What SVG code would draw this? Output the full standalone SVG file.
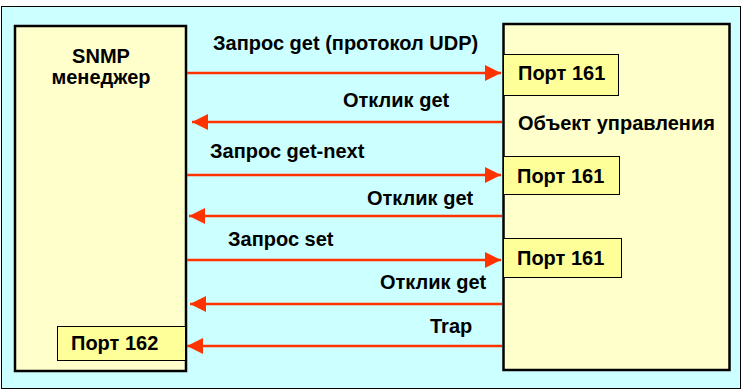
<svg xmlns="http://www.w3.org/2000/svg" width="744" height="392" viewBox="0 0 744 392">
<defs>
<style>
text{font-family:"Liberation Sans",Arial,sans-serif;font-weight:bold;font-size:20px;fill:#000}
.big{stroke:#000;stroke-width:2.5;fill:#FFFFCC}
.port{stroke:#000;stroke-width:1;fill:#FFFF99}
.arr{stroke:#FF3300;stroke-width:2.5;fill:none}
</style>
<marker id="ah" viewBox="0 0 16 16" refX="16" refY="8" markerWidth="16" markerHeight="16" markerUnits="userSpaceOnUse" orient="auto">
<path d="M0,0 L16,8 L0,16 Z" fill="#FF3300"/>
</marker>
</defs>
<rect x="1.5" y="6.5" width="739" height="382" fill="#CCFFFF" stroke="#000" stroke-width="1"/>
<g id="manager">
<rect class="big" x="15" y="26" width="171" height="345"/>
<text x="101" y="63" text-anchor="middle">SNMP</text>
<text x="101" y="84" text-anchor="middle">менеджер</text>
</g>
<g id="agent">
<rect class="big" x="503.5" y="24" width="226" height="346"/>
<text x="518" y="130">Объект управления</text>
</g>
<g id="port161a">
<rect class="port" x="503.5" y="54.5" width="115" height="41"/>
<text x="518" y="80">Порт 161</text>
</g>
<g id="port161b">
<rect class="port" x="503.5" y="156.5" width="116" height="38"/>
<text x="517" y="183">Порт 161</text>
</g>
<g id="port161c">
<rect class="port" x="503.5" y="238.5" width="118" height="39"/>
<text x="517" y="265">Порт 161</text>
</g>
<g id="port162">
<rect class="port" x="57.5" y="326.5" width="128" height="34"/>
<text x="71" y="350">Порт 162</text>
</g>
<g id="connectors">
<line class="arr" x1="187" y1="73" x2="501" y2="73" marker-end="url(#ah)"/>
<line class="arr" x1="502" y1="122" x2="192" y2="122" marker-end="url(#ah)"/>
<line class="arr" x1="187" y1="175" x2="501" y2="175" marker-end="url(#ah)"/>
<line class="arr" x1="502" y1="216" x2="189" y2="216" marker-end="url(#ah)"/>
<line class="arr" x1="187" y1="260" x2="501" y2="260" marker-end="url(#ah)"/>
<line class="arr" x1="502" y1="304" x2="190" y2="304" marker-end="url(#ah)"/>
<line class="arr" x1="502" y1="346" x2="187" y2="346" marker-end="url(#ah)"/>
</g>
<g id="labels">
<text x="213" y="50">Запрос get (протокол UDP)</text>
<text x="343" y="107">Отклик get</text>
<text x="210" y="158">Запрос get-next</text>
<text x="367" y="205">Отклик get</text>
<text x="228" y="246">Запрос set</text>
<text x="380" y="289">Отклик get</text>
<text x="430" y="333">Trap</text>
</g>
</svg>
